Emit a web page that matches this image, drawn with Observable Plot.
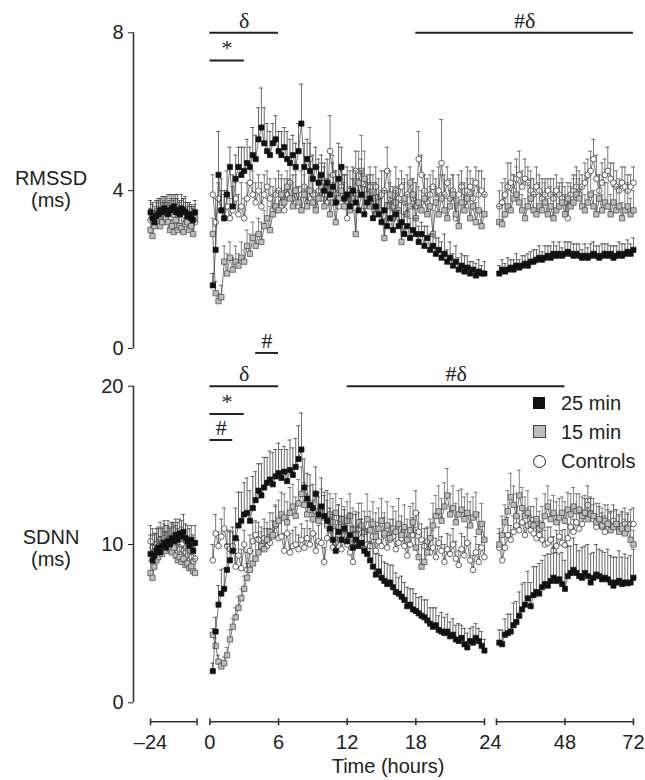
<!DOCTYPE html>
<html><head><meta charset="utf-8">
<script src="https://cdn.jsdelivr.net/npm/d3@7"></script>
<script src="https://cdn.jsdelivr.net/npm/@observablehq/plot@0.6"></script>
<style>
body{margin:0;background:#fff;font-family:"Liberation Sans",Arial,Helvetica,sans-serif;}
#wrap{position:relative;width:645px;height:780px;overflow:hidden;}
#wrap svg{position:absolute;left:0;}
.lab{position:absolute;font-size:20px;color:#222;text-align:center;line-height:22px;white-space:nowrap;}
.leg{position:absolute;font-size:20px;color:#222;line-height:22px;white-space:nowrap;}
.sym{position:absolute;box-sizing:border-box;}
</style></head><body><div id="wrap"></div><script>
// ---------- time grid ----------
const baseHours = d3.range(-24, 0);                 // hourly baseline
const mainHours = d3.range(1, 97).map(i => i / 4);   // 15-min samples, first 24 h
const followHours = d3.range(25, 73);                // hourly, 24-72 h
const seriesNames = ["25 min", "15 min", "Controls"];

// ---------- RMSSD (ms) ----------
const rmssd25Base = [3.45,3.30,3.20,3.35,3.40,3.50,3.45,3.55,3.50,3.40,3.50,3.55, 3.60,3.45,3.50,3.40,3.55,3.50,3.45,3.35,3.40,3.30,3.25,3.45];
const rmssd25BaseErr = [0.3,0.35,0.3,0.4,0.35,0.3,0.4,0.3,0.35,0.3,0.4,0.35, 0.3,0.35,0.4,0.3,0.35,0.3,0.4,0.35,0.3,0.3,0.35,0.3];
const rmssd15Base = [3.0,2.85,3.1,3.2,3.3,3.1,3.2,3.4,3.3,3.2,3.0,3.1, 2.95,3.25,3.0,3.1,3.05,2.95,3.15,3.2,3.0,3.1,2.9,3.3];
const rmssd15BaseErr = [0.3,0.25,0.3,0.35,0.3,0.25,0.3,0.35,0.3,0.3,0.25,0.3, 0.3,0.35,0.3,0.25,0.3,0.3,0.35,0.3,0.25,0.3,0.3,0.35];
const rmssdCtlBase = [3.25,3.35,3.3,3.4,3.45,3.5,3.35,3.4,3.5,3.55,3.45,3.5, 3.4,3.6,3.5,3.4,3.45,3.5,3.35,3.3,3.4,3.3,3.25,3.2];
const rmssdCtlBaseErr = [0.3,0.35,0.3,0.3,0.35,0.3,0.35,0.3,0.3,0.35,0.3,0.3, 0.35,0.3,0.3,0.35,0.3,0.3,0.35,0.3,0.3,0.35,0.3,0.3];

const rmssd25Main = [
 1.6,2.5,4.4,3.5,3.3,3.9,4.6,3.6,4.3,4.6,4.4,4.5,
 4.7,4.6,4.9,4.8,5.3,5.6,5.2,5.0,4.9,5.2,5.3,5.0,
 4.9,5.1,4.8,4.7,4.9,4.6,5.0,5.7,4.6,4.8,4.5,4.3,
 4.6,4.2,4.4,4.0,4.2,3.9,4.1,3.7,4.3,4.6,3.8,3.9,
 3.6,4.0,3.7,3.5,3.9,3.4,3.7,3.8,3.3,3.6,3.4,3.2,
 3.5,3.1,3.3,3.0,3.4,3.1,3.2,2.9,3.1,2.8,3.0,2.9,
 2.7,2.9,2.6,2.8,2.5,2.6,2.4,2.5,2.3,2.4,2.2,2.3,
 2.1,2.2,2.0,2.1,1.95,2.05,1.9,2.0,1.85,1.95,1.9,1.9];
const rmssd25MainErr = [
 0.3,0.6,1.1,0.8,0.7,0.6,0.5,0.8,0.6,0.5,0.7,0.6,
 0.6,0.5,0.7,0.6,0.8,1.0,0.9,0.7,0.6,0.5,0.6,0.5,
 0.6,0.5,0.7,0.6,0.5,0.6,0.7,1.0,0.6,0.5,0.7,0.6,
 0.5,0.6,0.5,0.7,0.6,0.5,0.6,0.8,0.9,0.5,0.6,0.7,
 0.5,0.6,0.8,0.5,0.6,0.7,0.5,0.6,0.5,0.6,0.5,0.6,
 0.5,0.6,0.4,0.5,0.6,0.4,0.5,0.5,0.4,0.5,0.6,0.4,
 0.4,0.3,0.5,0.3,0.4,0.3,0.4,0.3,0.4,0.5,0.3,0.4,
 0.3,0.4,0.3,0.3,0.4,0.3,0.3,0.2,0.3,0.3,0.2,0.3];
const rmssd15Main = [
 2.9,1.4,1.2,1.3,2.2,1.9,2.3,2.0,2.2,2.1,2.3,2.2,
 2.6,2.4,2.8,2.6,2.9,2.7,3.1,3.3,3.0,3.4,3.6,3.5,
 3.9,3.7,4.1,3.8,3.6,4.0,3.7,3.5,3.9,3.6,4.0,3.7,
 3.5,3.8,4.1,3.6,3.9,3.4,3.7,3.2,3.8,4.0,3.6,3.9,
 3.5,3.8,2.9,4.2,4.5,4.3,3.9,3.6,3.8,3.4,3.7,3.5,
 2.8,3.6,3.9,3.3,3.7,3.5,2.7,3.8,3.4,3.6,3.9,3.3,
 3.7,3.5,3.8,3.4,3.6,2.9,3.7,3.4,3.8,3.5,3.3,3.6,
 3.9,3.4,3.1,3.7,3.5,3.8,3.3,3.6,3.2,3.5,3.1,3.4];
const rmssd15MainErr = [
 0.4,0.3,0.2,0.3,0.4,0.5,0.4,0.3,0.4,0.3,0.4,0.3,
 0.4,0.5,0.4,0.3,0.4,0.5,0.4,0.5,0.6,0.5,0.4,0.5,
 0.5,0.6,0.4,0.5,0.6,0.5,0.4,0.6,0.5,0.4,0.5,0.6,
 0.5,0.4,0.6,0.5,0.4,0.7,0.5,0.6,0.4,0.5,0.6,0.5,
 0.4,0.5,0.6,0.8,0.9,0.7,0.5,0.6,0.4,0.5,0.6,0.5,
 0.5,0.4,0.6,0.5,0.4,0.6,0.5,0.4,0.5,0.6,0.4,0.5,
 0.4,0.5,0.6,0.4,0.5,0.6,0.4,0.5,0.6,0.4,0.5,0.4,
 0.5,0.4,0.6,0.5,0.4,0.5,0.6,0.4,0.5,0.6,0.4,0.5];
const rmssdCtlMain = [
 3.9,3.2,3.8,3.5,3.3,3.6,3.3,3.5,3.8,3.4,3.6,3.3,
 3.8,4.2,3.9,3.7,4.0,3.6,3.9,4.1,3.8,3.5,3.9,4.0,
 3.7,3.5,3.9,4.2,3.8,4.0,3.6,3.9,4.1,3.7,4.8,3.9,
 3.6,4.0,3.8,4.2,3.7,5.0,4.4,3.9,3.6,4.1,3.8,3.3,
 4.0,3.7,4.5,3.9,4.2,3.6,3.9,4.1,3.8,4.1,3.7,3.9,
 4.0,4.5,3.8,3.6,4.0,3.8,4.1,3.7,3.9,4.2,3.8,3.6,
 4.8,4.4,4.0,3.7,3.9,4.1,3.8,4.0,4.7,3.9,4.2,3.8,
 4.0,3.3,3.9,4.1,3.7,4.0,4.1,3.8,4.2,3.9,4.0,3.9];
const rmssdCtlMainErr = [
 0.5,0.6,0.4,0.5,0.6,0.4,0.5,0.6,0.4,0.5,0.6,0.5,
 0.4,0.5,0.6,0.5,0.4,0.6,0.5,0.4,0.5,0.6,0.4,0.5,
 0.6,0.5,0.4,0.5,0.6,0.4,0.5,0.6,0.5,0.4,0.8,0.5,
 0.4,0.6,0.5,0.4,0.6,0.9,0.5,0.6,0.4,0.5,0.6,0.5,
 0.5,0.6,0.5,0.4,0.6,0.5,0.4,0.5,0.6,0.5,0.4,0.6,
 0.5,0.6,0.4,0.5,0.6,0.5,0.4,0.6,0.5,0.4,0.5,0.6,
 0.7,0.5,0.4,0.6,0.5,0.4,0.5,0.6,1.1,0.5,0.4,0.5,
 0.4,0.6,0.5,0.4,0.5,0.6,0.4,0.5,0.4,0.6,0.5,0.4];

const rmssd25Follow = [1.9,2.0,1.95,2.0,2.05,2.0,2.1,2.05,2.1,2.15,2.1,2.2, 2.2,2.25,2.3,2.25,2.3,2.35,2.3,2.4,2.35,2.4,2.35,2.4, 2.45,2.4,2.35,2.4,2.35,2.3,2.35,2.3,2.35,2.4,2.35,2.3, 2.35,2.4,2.35,2.4,2.3,2.35,2.4,2.35,2.4,2.45,2.4,2.5];
const rmssd25FollowErr = [0.2,0.25,0.2,0.3,0.2,0.25,0.3,0.2,0.25,0.2,0.3,0.25, 0.3,0.25,0.3,0.2,0.3,0.25,0.3,0.3,0.25,0.3,0.2,0.3, 0.25,0.3,0.3,0.25,0.3,0.2,0.3,0.25,0.3,0.3,0.25,0.3, 0.3,0.25,0.3,0.2,0.3,0.25,0.3,0.3,0.25,0.3,0.25,0.3];
const rmssd15Follow = [3.2,3.15,3.4,3.6,3.5,3.8,3.9,3.7,3.5,3.3,3.6,3.8, 3.5,3.4,3.6,3.5,3.7,3.4,3.6,3.3,3.5,3.6,3.7,3.4, 3.8,3.6,3.7,3.9,3.8,3.6,3.5,3.7,3.9,3.6,3.4,3.8, 3.5,3.7,3.6,3.4,3.7,3.5,3.6,3.3,3.5,3.6,3.4,3.5];
const rmssd15FollowErr = [0.4,0.5,0.4,0.6,0.5,0.6,0.7,0.5,0.4,0.5,0.6,0.5, 0.4,0.5,0.6,0.4,0.5,0.4,0.5,0.6,0.4,0.5,0.6,0.5, 0.4,0.5,0.6,0.5,0.7,0.5,0.4,0.6,0.5,0.4,0.5,0.6, 0.4,0.5,0.6,0.5,0.4,0.6,0.5,0.4,0.5,0.6,0.4,0.5];
const rmssdCtlFollow = [3.6,3.7,3.9,4.1,4.2,4.0,4.3,4.4,4.1,4.3,4.2,4.0, 3.9,4.1,4.0,3.8,3.9,4.0,3.9,3.8,4.0,3.9,3.8,3.7, 3.3,3.9,4.0,4.1,3.9,4.1,4.2,4.4,4.5,4.8,4.3,4.0, 4.2,4.4,4.5,4.3,4.2,4.1,4.0,4.2,4.1,4.0,4.1,4.2];
const rmssdCtlFollowErr = [0.4,0.5,0.4,0.6,0.5,0.4,0.5,0.6,0.4,0.5,0.4,0.5, 0.4,0.5,0.4,0.5,0.4,0.3,0.4,0.5,0.4,0.3,0.4,0.4, 0.4,0.3,0.4,0.5,0.4,0.3,0.5,0.4,0.5,0.5,0.6,0.4, 0.5,0.4,0.6,0.4,0.5,0.4,0.3,0.4,0.5,0.4,0.3,0.4];

// ---------- SDNN (ms) ----------
const sdnn25Base = [9.4,9.0,9.3,9.6,9.8,9.5,9.9,10.1,9.8,10.2,10.0,10.4, 10.2,10.6,10.3,10.7,10.5,10.8,10.4,10.2,9.9,10.3,9.6,10.1];
const sdnn25BaseErr = [1.2,1.0,1.3,1.1,1.2,1.0,1.1,1.2,1.0,1.3,1.1,1.0, 1.2,1.0,1.1,0.9,1.0,1.1,0.9,1.0,1.1,0.9,1.0,1.1];
const sdnn15Base = [8.2,7.9,8.6,9.0,9.2,9.5,9.4,9.8,9.6,9.9,9.7,9.5, 9.8,9.3,9.0,9.2,8.9,9.1,8.7,8.8,8.5,8.6,8.3,8.2];
const sdnn15BaseErr = [0.8,0.9,0.8,0.9,1.0,0.8,0.9,1.0,0.8,0.9,0.8,1.0, 0.9,0.8,0.9,0.8,1.0,0.8,0.9,0.8,0.9,0.8,0.8,0.9];
const sdnnCtlBase = [10.2,9.8,9.6,10.0,9.9,10.3,10.1,10.4,10.0,10.2,9.9,10.3, 10.0,10.2,9.8,9.7,10.0,9.6,9.5,9.3,9.0,9.2,8.9,9.1];
const sdnnCtlBaseErr = [1.0,1.2,1.1,1.0,1.2,1.1,1.0,1.1,1.2,1.0,1.1,1.0, 1.1,1.0,1.2,1.0,1.1,1.0,1.1,1.2,1.0,1.1,1.0,1.1];

const sdnn25Main = [
 2.0,4.5,6.2,6.9,7.2,8.4,9.0,9.6,10.4,11.2,11.5,11.9,
 12.0,11.5,12.3,12.8,13.4,13.1,13.6,13.9,14.1,13.8,14.3,14.5,
 14.2,14.6,14.0,14.7,14.4,14.9,15.4,16.0,13.6,12.9,12.5,12.3,
 13.2,11.9,12.4,11.8,11.5,11.0,10.3,9.6,10.8,10.3,11.0,10.2,
 10.6,9.8,10.3,9.9,10.1,9.6,9.4,9.0,8.6,8.1,8.3,7.9,
 7.7,7.5,7.6,7.3,7.0,6.9,6.7,6.5,6.1,6.2,5.9,5.8,
 5.65,5.5,5.4,5.2,5.0,4.8,4.9,4.6,4.5,4.4,4.5,4.2,
 4.3,4.0,3.9,4.1,3.7,3.5,3.9,3.8,4.1,3.9,3.6,3.3];
const sdnn25MainErr = [
 0.5,0.9,1.2,1.5,1.3,1.6,1.8,1.5,1.9,2.1,1.8,2.0,
 2.2,1.9,2.0,1.8,1.7,2.0,1.9,1.6,1.8,2.0,1.7,1.9,
 1.8,1.6,2.0,1.9,1.7,1.8,2.1,2.3,1.8,1.6,1.9,1.5,
 1.7,1.4,1.8,1.5,1.9,1.3,1.6,1.4,1.7,1.5,1.2,1.6,
 1.4,1.3,1.6,1.2,1.5,1.3,1.4,1.2,1.5,1.3,1.1,1.4,
 1.2,1.3,1.1,1.4,1.2,1.0,1.3,1.1,1.2,1.0,1.3,1.1,
 1.0,1.2,1.1,1.3,1.0,1.2,1.1,0.9,1.2,1.0,1.1,0.9,
 1.0,0.9,1.1,0.8,1.0,0.9,0.8,1.0,0.9,0.8,0.9,0.7];
const sdnn15Main = [
 4.3,3.6,2.6,2.3,2.5,3.0,4.0,4.8,5.4,6.0,6.6,7.2,
 7.9,8.4,8.8,9.1,9.5,9.9,9.7,10.3,10.8,10.6,11.3,11.5,
 11.9,11.7,11.4,12.0,12.4,11.8,12.6,13.2,12.5,11.9,12.2,11.6,
 12.1,11.5,12.3,11.7,11.2,11.9,11.4,12.0,11.1,11.6,10.9,11.5,
 11.8,11.0,10.6,11.4,11.2,10.8,11.6,10.9,11.3,10.5,11.0,11.5,
 10.7,11.2,10.4,11.0,10.8,11.3,10.6,11.1,10.3,10.9,11.4,9.8,
 9.2,8.6,8.9,9.5,10.4,11.2,11.8,12.1,11.5,12.4,13.1,11.9,
 12.3,11.4,11.9,12.2,11.6,12.0,11.2,11.7,11.9,10.8,11.3,10.3];
const sdnn15MainErr = [
 0.4,0.5,0.4,0.3,0.4,0.5,0.6,0.5,0.6,0.7,0.6,0.8,
 0.9,1.0,0.8,1.1,1.0,1.2,1.3,1.1,1.2,1.4,1.2,1.3,
 1.4,1.5,1.3,1.6,1.4,1.2,1.5,1.7,1.4,1.3,1.5,1.2,
 1.3,1.5,1.2,1.4,1.6,1.3,1.5,1.2,1.4,1.3,1.5,1.2,
 1.4,1.3,1.5,1.2,1.4,1.3,1.6,1.2,1.4,1.5,1.3,1.4,
 1.3,1.5,1.2,1.4,1.3,1.6,1.2,1.4,1.3,1.5,1.2,1.3,
 1.2,1.4,1.3,1.5,1.2,1.4,1.3,1.6,1.4,1.5,1.7,1.3,
 1.4,1.2,1.5,1.3,1.4,1.2,1.5,1.3,1.4,1.2,1.3,1.1];
const sdnnCtlMain = [
 9.0,10.7,9.9,10.5,11.0,9.9,9.7,9.9,8.6,9.3,8.5,10.0,
 8.4,9.6,10.2,10.6,10.3,9.8,10.4,9.9,10.1,10.5,11.2,10.4,
 10.5,9.6,10.7,9.5,9.9,10.0,9.7,10.3,9.8,10.4,10.0,10.7,
 9.6,10.2,10.1,8.9,10.4,10.9,9.8,10.1,10.6,9.7,10.3,10.0,
 9.5,8.9,10.2,11.0,10.4,9.7,10.0,9.9,10.5,9.6,10.2,9.9,
 10.6,9.8,10.3,10.5,9.7,10.1,10.4,9.9,9.3,10.0,10.6,12.0,
 10.8,10.3,9.9,10.2,9.5,9.8,9.2,10.1,9.6,8.9,9.7,9.4,
 10.0,9.1,8.7,9.7,9.3,10.1,9.0,8.4,9.5,8.9,9.8,9.2];
const sdnnCtlMainErr = [
 1.0,1.2,0.9,1.1,1.3,1.0,1.2,0.9,1.1,1.0,1.2,0.9,
 1.1,1.0,1.2,0.9,1.1,1.0,1.2,1.1,0.9,1.0,1.2,1.1,
 1.0,1.1,0.9,1.2,1.0,1.1,0.9,1.0,1.2,1.1,1.0,0.9,
 1.1,1.0,1.2,0.9,1.1,1.0,1.2,1.0,0.9,1.1,1.0,1.2,
 1.0,1.1,0.9,1.0,1.2,1.1,1.0,0.9,1.1,1.0,1.2,1.0,
 1.1,1.0,0.9,1.1,1.0,1.2,1.0,1.1,0.9,1.0,1.1,1.4,
 1.2,1.0,1.1,0.9,1.0,1.1,1.2,1.0,0.9,1.1,1.0,1.2,
 1.0,1.1,0.9,1.0,1.2,1.0,1.1,0.9,1.0,1.1,1.0,1.2];

const sdnn25Follow = [3.8,3.7,4.3,4.4,4.5,4.9,5.1,5.5,5.9,6.2,6.6,6.1, 6.8,7.0,6.9,7.3,7.5,7.4,7.7,7.9,7.7,7.8,7.5,7.2, 8.0,8.2,8.4,8.2,8.0,7.9,8.2,8.0,7.6,7.9,8.1,8.0, 7.8,7.9,7.8,7.6,7.4,7.6,7.7,7.5,7.6,7.55,7.6,7.9];
const sdnn25FollowErr = [0.8,0.9,1.0,1.2,1.1,1.4,1.3,1.5,1.6,1.4,1.7,1.5, 1.8,1.6,1.9,1.7,1.8,2.0,1.7,1.9,1.8,1.6,2.0,1.8, 1.9,1.7,2.0,1.8,1.6,1.9,1.7,2.0,1.8,1.6,1.9,1.7, 1.8,1.6,1.9,1.7,1.8,1.6,1.9,1.7,1.8,1.6,1.7,1.8];
const sdnn15Follow = [10.0,10.6,11.4,12.1,13.0,12.5,11.8,13.1,12.3,11.8,12.0,11.3, 11.2,11.6,11.0,11.2,11.8,12.4,11.6,12.0,11.4,11.7,12.0,11.5, 12.2,11.9,12.4,12.1,12.2,11.8,12.0,11.6,11.9,11.8,11.4,11.6, 11.2,11.5,11.3,10.9,11.1,11.3,10.8,11.0,10.7,11.0,10.3,10.0];
const sdnn15FollowErr = [1.0,1.2,1.1,1.3,1.5,1.2,1.4,1.6,1.3,1.2,1.4,1.1, 1.2,1.3,1.1,1.2,1.4,1.3,1.2,1.1,1.3,1.2,1.0,1.2, 1.1,1.3,1.2,1.1,1.0,1.2,1.1,1.3,1.0,1.1,1.2,1.0, 1.1,1.0,1.2,1.1,1.0,0.9,1.1,1.0,0.9,1.0,1.1,0.9];
const sdnnCtlFollow = [9.8,9.0,9.8,10.6,10.3,10.8,11.2,10.9,11.4,10.6,11.2,10.9, 10.7,10.4,10.6,10.3,10.0,10.1,10.3,9.6,9.9,10.5,10.1,9.95, 10.4,11.1,10.8,11.4,11.0,11.3,11.8,12.5,12.0,11.6,11.1,11.4, 11.1,10.8,11.4,11.2,11.5,11.3,11.0,11.2,11.3,11.1,11.3,11.3];
const sdnnCtlFollowErr = [0.9,1.0,0.8,1.1,0.9,1.0,1.2,0.9,1.0,0.8,1.1,0.9, 1.0,0.8,0.9,1.1,0.9,1.0,0.8,0.9,1.0,0.9,0.8,1.0, 0.9,1.0,0.8,0.9,1.0,0.9,1.1,1.2,1.0,0.9,0.8,1.0, 0.9,1.0,0.8,0.9,1.0,0.9,0.8,0.9,1.0,0.8,0.9,1.0];

// ---------- significance bars (segment 0 baseline, 1 = 0-24 h, 2 = 24-72 h) ----------
const sigRMSSD = [
 {label:"δ",  s0:1, h0:0,  s1:1, h1:6,  level:8},
 {label:"*",  s0:1, h0:0,  s1:1, h1:3,  level:7.3},
 {label:"#δ", s0:1, h0:18, s1:2, h1:72, level:8}];
const sigSDNN = [
 {label:"#",  s0:1, h0:4,  s1:1, h1:6,  level:22.1},
 {label:"δ",  s0:1, h0:0,  s1:1, h1:6,  level:20},
 {label:"*",  s0:1, h0:0,  s1:1, h1:3,  level:18.25},
 {label:"#",  s0:1, h0:0,  s1:1, h1:2,  level:16.6},
 {label:"#δ", s0:1, h0:12, s1:2, h1:48, level:20}];

// ---------- x axis ----------
const xSegments = [{s:0,h0:-24,h1:0},{s:1,h0:0,h1:24},{s:2,h0:24,h1:72}];
const xTicks = [{s:0,h:-24},{s:0,h:0},{s:1,h:0},{s:1,h:6},{s:1,h:12},{s:1,h:18},{s:1,h:24},{s:2,h:24},{s:2,h:48},{s:2,h:72}];
const xTickLabels = [{s:0,h:-24,label:"–24"},{s:1,h:0,label:"0"},{s:1,h:6,label:"6"},{s:1,h:12,label:"12"},{s:1,h:18,label:"18"},{s:"gap",h:24,label:"24"},{s:2,h:48,label:"48"},{s:2,h:72,label:"72"}];

// ---------- broken-axis geometry (main-segment hour units) ----------
const BRK = {baseStart:-5.19, baseRate:0.1694, followStart:25.05, followRate:0.2495, left:-6.68, right:37.03};
function toU(s, h) {
  if (s === 0) return BRK.baseStart + (h + 24) * BRK.baseRate;
  if (s === 1) return h;
  if (s === 2) return BRK.followStart + (h - 24) * BRK.followRate;
  return (toU(1, h) + toU(2, h)) / 2; // label in the gap
}
function rows(name, parts) {
  const out = [];
  for (const [hours, vals, errs, s] of parts)
    vals.forEach((v, i) => out.push({series:name, seg:s, h:hours[i], u:toU(s, hours[i]), v, e:errs[i]}));
  return out;
}
const rmssdRows = [
  ...rows("25 min", [[baseHours, rmssd25Base, rmssd25BaseErr, 0],[mainHours, rmssd25Main, rmssd25MainErr, 1],[followHours, rmssd25Follow, rmssd25FollowErr, 2]]),
  ...rows("15 min", [[baseHours, rmssd15Base, rmssd15BaseErr, 0],[mainHours, rmssd15Main, rmssd15MainErr, 1],[followHours, rmssd15Follow, rmssd15FollowErr, 2]]),
  ...rows("Controls", [[baseHours, rmssdCtlBase, rmssdCtlBaseErr, 0],[mainHours, rmssdCtlMain, rmssdCtlMainErr, 1],[followHours, rmssdCtlFollow, rmssdCtlFollowErr, 2]])];
const sdnnRows = [
  ...rows("25 min", [[baseHours, sdnn25Base, sdnn25BaseErr, 0],[mainHours, sdnn25Main, sdnn25MainErr, 1],[followHours, sdnn25Follow, sdnn25FollowErr, 2]]),
  ...rows("15 min", [[baseHours, sdnn15Base, sdnn15BaseErr, 0],[mainHours, sdnn15Main, sdnn15MainErr, 1],[followHours, sdnn15Follow, sdnn15FollowErr, 2]]),
  ...rows("Controls", [[baseHours, sdnnCtlBase, sdnnCtlBaseErr, 0],[mainHours, sdnnCtlMain, sdnnCtlMainErr, 1],[followHours, sdnnCtlFollow, sdnnCtlFollowErr, 2]])];

const styles = {
  "Controls": {symbol:"circle", r:2.8, fill:"#ffffff", stroke:"#222", err:"#555"},
  "15 min":   {symbol:"square", r:3.0, fill:"#bdbdbd", stroke:"#444", err:"#666"},
  "25 min":   {symbol:"square", r:2.9, fill:"#111111", stroke:"#111", err:"#444"}
};
const drawOrder = ["Controls", "15 min", "25 min"];
const serif = "'Liberation Serif','Times New Roman',serif";
const XAXIS_DY = 19;

function panel(cfg) {
  const sig = cfg.sig.map(d => ({...d, u0: toU(d.s0, d.h0), u1: toU(d.s1, d.h1)}));
  const marks = [
    Plot.ruleX([{x: BRK.left, y1: 0, y2: cfg.ymax}], {x:"x", y1:"y1", y2:"y2", stroke:"#333", strokeWidth:1.6})
  ];
  for (const name of drawOrder) {
    const d = cfg.rows.filter(r => r.series === name);
    const st = styles[name];
    marks.push(Plot.ruleX(d, {x:"u", y1:"v", y2: r => r.v + r.e, stroke: st.err, strokeWidth: 0.8}));
    marks.push(Plot.ruleY(d, {y: r => r.v + r.e, x1:"u", x2:"u", insetLeft:-2, insetRight:-2, stroke: st.err, strokeWidth: 0.8}));
    marks.push(Plot.line(d, {x:"u", y:"v", z:"seg", stroke:"#222", strokeWidth:0.6}));
    marks.push(Plot.dot(d, {x:"u", y:"v", symbol: st.symbol, r: st.r, fill: st.fill, stroke: st.stroke, strokeWidth: 0.7}));
  }
  marks.push(Plot.ruleY(sig, {x1:"u0", x2:"u1", y:"level", stroke:"#222", strokeWidth:2}));
  marks.push(Plot.text(sig, {x: d => (d.u0 + d.u1) / 2, y:"level", text:"label", lineAnchor:"bottom", dy:-5, fontFamily: serif, fontSize:22, fill:"#222"}));
  if (cfg.xaxis) {
    const segs = xSegments.map(d => ({u0: toU(d.s, d.h0), u1: toU(d.s, d.h1), y: 0}));
    const ticks = xTicks.map(d => ({u: toU(d.s, d.h), y: 0}));
    const labs = xTickLabels.map(d => ({u: toU(d.s, d.h), y: 0, label: d.label}));
    marks.push(Plot.ruleY(segs, {x1:"u0", x2:"u1", y:"y", dy: XAXIS_DY, stroke:"#333", strokeWidth:1.6}));
    marks.push(Plot.ruleX(ticks, {x:"u", y1:"y", y2:"y", insetTop:-3, insetBottom:-4, dy: XAXIS_DY, stroke:"#333", strokeWidth:1.6}));
    marks.push(Plot.text(labs, {x:"u", y:"y", text:"label", dy: XAXIS_DY + 21, fontSize:20, fill:"#222"}));
  }
  const svg = Plot.plot({
    width: 645, height: cfg.height,
    marginLeft: 133, marginRight: 12, marginTop: cfg.mt, marginBottom: cfg.mb,
    x: {domain: [BRK.left, BRK.right], axis: null},
    y: {domain: [0, cfg.ymax], ticks: cfg.ticks, tickSize: 5, tickPadding: 5, label: null},
    style: {background: "transparent", overflow: "visible", fontSize: "20px", fontFamily: "'Liberation Sans',Arial,sans-serif", color: "#222"},
    marks
  });
  svg.style.top = cfg.top + "px";
  return svg;
}

const wrap = document.getElementById("wrap");
wrap.appendChild(panel({rows: rmssdRows, sig: sigRMSSD, ymax: 8, ticks: [0,4,8], height: 360, mt: 32.3, mb: 12, top: 0}));
wrap.appendChild(panel({rows: sdnnRows, sig: sigSDNN, ymax: 20, ticks: [0,10,20], height: 450, mt: 55.7, mb: 77.7, top: 330, xaxis: true}));

function addLabel(cls, html, css) { const el = document.createElement("div"); el.className = cls; el.innerHTML = html; Object.assign(el.style, css); wrap.appendChild(el); return el; }
addLabel("lab", "RMSSD<br>(ms)", {left:"0px", width:"102px", top:"167px"});
addLabel("lab", "SDNN<br>(ms)", {left:"0px", width:"102px", top:"526px"});
addLabel("lab", "Time (hours)", {left:"288px", width:"200px", top:"755px"});
// legend
const legendSyms = [
  {css:{left:"533px", top:"397px", width:"12px", height:"12px", background:"#111"}},
  {css:{left:"533px", top:"425px", width:"13px", height:"13px", background:"#bdbdbd", border:"1px solid #444"}},
  {css:{left:"533px", top:"455px", width:"13px", height:"13px", background:"#fff", border:"1px solid #222", borderRadius:"50%"}}];
const legendTextTop = [391.5, 420.5, 449.5];
seriesNames.forEach((name, i) => {
  addLabel("sym", "", legendSyms[i].css);
  addLabel("leg", name, {left:"561px", top: legendTextTop[i] + "px"});
});
</script></body></html>
